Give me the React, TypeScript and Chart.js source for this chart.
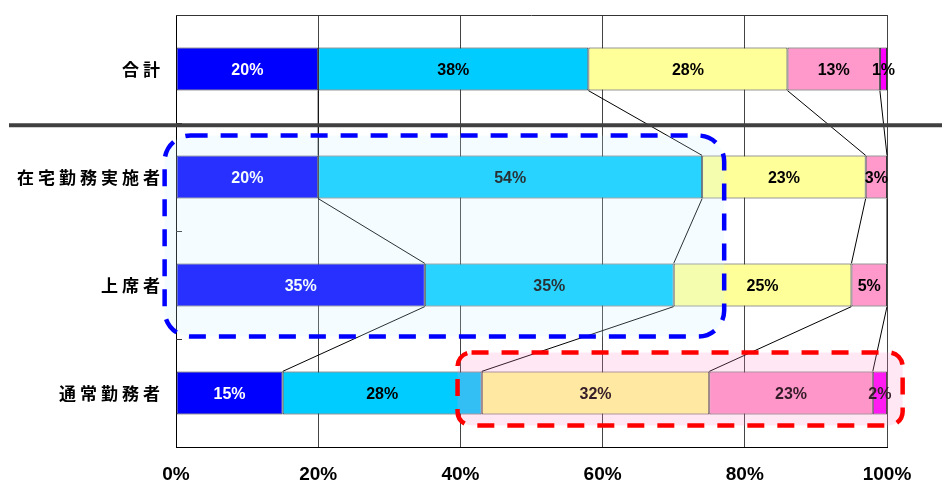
import { useEffect, useRef } from 'react';
import { Chart, registerables } from 'chart.js';

Chart.register(...registerables);

// Response shares (%) by group
const categories = ['合計', '在宅勤務実施者', '上席者', '通常勤務者'];
const seriesNames = ['回答1', '回答2', '回答3', '回答4', '回答5'];
const series1 = [20, 20, 35, 15];
const series2 = [38, 54, 35, 28];
const series3 = [28, 23, 25, 32];
const series4 = [13, 3, 5, 23];
const series5 = [1, 0, 0, 2];
const xTickValues = [0, 20, 40, 60, 80, 100];

const seriesColors = ['#0000ff', '#00ccff', '#ffff99', '#ff99cc', '#ff00ff'];
const labelColors = ['#ffffff', '#000000', '#000000', '#000000', '#000000'];

const LATIN = '"Liberation Sans", Arial, sans-serif';
const CJK = '"Noto Sans CJK JP", sans-serif';

type Box = {
  xMin: number;
  xMax: number;
  yMin: number;
  yMax: number;
  radius: number;
  stroke: string;
  fill: string;
};

// Highlight frames, placed in axis units (x in %, y in category index)
const highlightBoxes: Box[] = [
  { xMin: -1.6, xMax: 77.1, yMin: 0.616, yMax: 2.477, radius: 26, stroke: '#0000ff', fill: 'rgba(200,240,255,0.2)' },
  { xMin: 39.6, xMax: 102.2, yMin: 2.625, yMax: 3.3, radius: 14, stroke: '#ff0000', fill: 'rgba(255,140,195,0.2)' },
];

const decorPlugin = {
  id: 'decor',
  beforeDatasetsDraw(chart: any) {
    const { ctx, chartArea: a, scales } = chart;
    const y = scales.y;
    ctx.save();
    ctx.strokeStyle = '#333';
    ctx.lineWidth = 1;
    ctx.beginPath();
    ctx.moveTo(a.left, Math.round(a.top) + 0.5);
    ctx.lineTo(a.right, Math.round(a.top) + 0.5);
    // inward tick marks between categories
    for (let i = 0; i < categories.length - 1; i++) {
      const py = Math.round((y.getPixelForValue(i) + y.getPixelForValue(i + 1)) / 2) + 0.5;
      ctx.moveTo(a.left, py);
      ctx.lineTo(a.left + 6, py);
    }
    ctx.stroke();
    ctx.restore();
  },
  afterDatasetsDraw(chart: any) {
    const { ctx } = chart;
    const n = chart.data.datasets.length;
    ctx.save();
    // series lines joining segment boundaries of neighbouring bars
    ctx.strokeStyle = '#000';
    ctx.lineWidth = 1;
    ctx.beginPath();
    for (let d = 0; d < n - 1; d++) {
      const els = chart.getDatasetMeta(d).data;
      for (let r = 0; r < els.length - 1; r++) {
        const up = els[r];
        const dn = els[r + 1];
        ctx.moveTo(up.x, up.y + up.height / 2);
        ctx.lineTo(dn.x, dn.y - dn.height / 2);
      }
    }
    ctx.stroke();
    // value labels
    ctx.font = `bold 16px ${LATIN}`;
    ctx.textAlign = 'center';
    ctx.textBaseline = 'middle';
    for (let d = 0; d < n; d++) {
      const ds = chart.data.datasets[d];
      const els = chart.getDatasetMeta(d).data;
      els.forEach((el: any, i: number) => {
        const v = ds.data[i];
        if (!v) return;
        ctx.fillStyle = labelColors[d];
        ctx.fillText(`${v}%`, (el.base + el.x) / 2, el.y + 2);
      });
    }
    ctx.restore();
  },
  afterDraw(chart: any) {
    const { ctx, chartArea: a, scales } = chart;
    const x = scales.x;
    const y = scales.y;
    ctx.save();
    // category names
    ctx.font = `bold 17px ${CJK}`;
    ctx.fillStyle = '#000';
    ctx.textBaseline = 'middle';
    ctx.textAlign = 'left';
    const spacing = 4;
    (ctx as any).letterSpacing = `${spacing}px`;
    categories.forEach((c, i) => {
      const w = ctx.measureText(c).width - spacing;
      ctx.fillText(c, a.left - 16 - w, y.getPixelForValue(i) + 1);
    });
    (ctx as any).letterSpacing = '0px';
    // highlight frames
    highlightBoxes.forEach((b) => {
      const l = x.getPixelForValue(b.xMin);
      const r = x.getPixelForValue(b.xMax);
      const t = y.getPixelForValue(b.yMin);
      const btm = y.getPixelForValue(b.yMax);
      ctx.beginPath();
      ctx.roundRect(l, t, r - l, btm - t, b.radius);
      ctx.fillStyle = b.fill;
      ctx.fill();
      ctx.setLineDash([17, 13]);
      ctx.lineWidth = 4.5;
      ctx.strokeStyle = b.stroke;
      ctx.stroke();
    });
    ctx.setLineDash([]);
    // divider between the total and the group rows
    const sy = y.getPixelForValue(0.52);
    ctx.strokeStyle = '#404040';
    ctx.lineWidth = 4;
    ctx.beginPath();
    ctx.moveTo(9, sy);
    ctx.lineTo(chart.width, sy);
    ctx.stroke();
    ctx.restore();
  },
};

export default function App() {
  const canvasRef = useRef<HTMLCanvasElement | null>(null);

  useEffect(() => {
    const canvas = canvasRef.current;
    if (!canvas) return;
    const values = [series1, series2, series3, series4, series5];
    const chart = new Chart(canvas, {
      type: 'bar',
      data: {
        labels: categories,
        datasets: values.map((data, i) => ({
          label: seriesNames[i],
          data,
          backgroundColor: seriesColors[i],
          borderColor: '#333',
          borderWidth: 1,
          borderSkipped: false,
          categoryPercentage: 1,
          barPercentage: 0.4,
        })),
      },
      options: {
        responsive: false,
        animation: false,
        indexAxis: 'y',
        layout: { padding: { top: 15, right: 55, left: 0, bottom: 0 } },
        plugins: { legend: { display: false }, tooltip: { enabled: false } },
        scales: {
          x: {
            stacked: true,
            min: 0,
            max: 100,
            afterBuildTicks: (scale: any) => {
              scale.ticks = xTickValues.map((v) => ({ value: v }));
            },
            ticks: {
              callback: (v: any) => `${v}%`,
              font: { family: LATIN, size: 19, weight: 'bold' },
              color: '#000',
              padding: 16,
              maxRotation: 0,
            },
            grid: { color: '#444', drawTicks: false },
            border: { color: '#000' },
            afterFit: (scale: any) => {
              scale.height = 34;
            },
          },
          y: {
            stacked: true,
            ticks: { display: false },
            grid: { display: false },
            border: { color: '#000' },
            afterFit: (scale: any) => {
              scale.width = 176;
            },
          },
        },
      } as any,
      plugins: [decorPlugin],
    });
    return () => chart.destroy();
  }, []);

  return (
    <div style={{ position: 'fixed', left: 0, top: 0, width: 942, height: 481, background: '#fff' }}>
      <canvas ref={canvasRef} width={942} height={481} style={{ display: 'block' }} />
    </div>
  );
}
